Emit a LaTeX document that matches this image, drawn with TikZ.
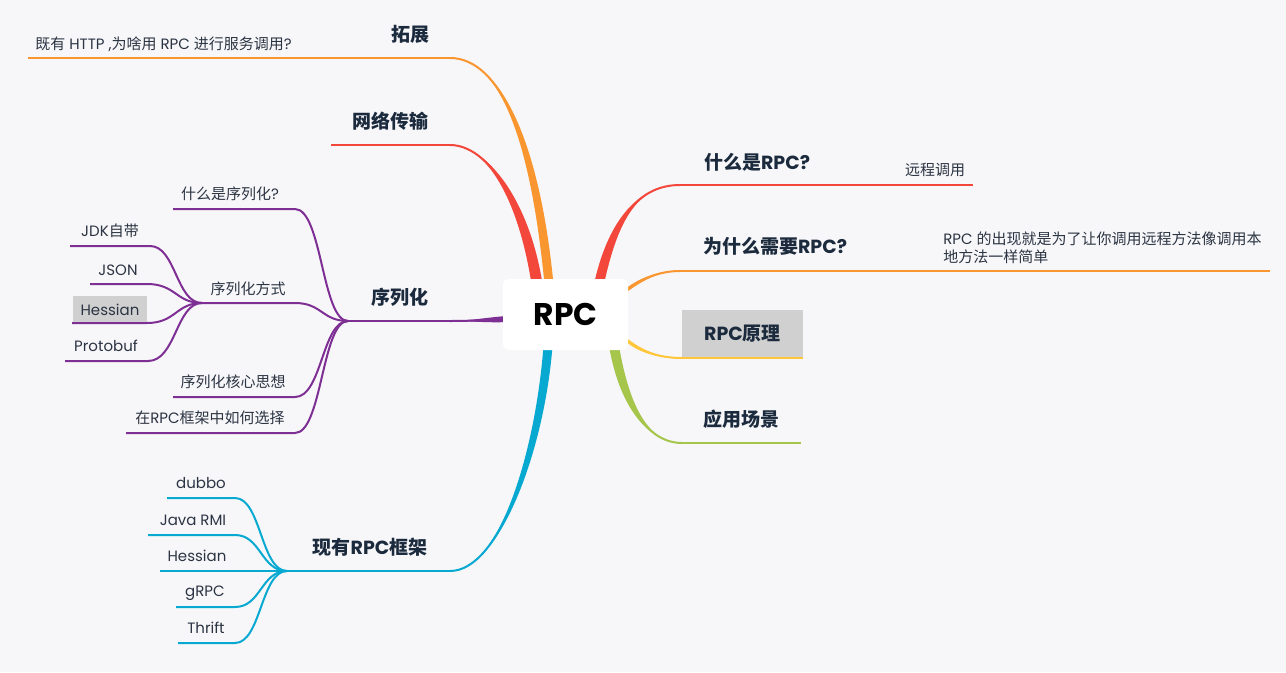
\documentclass[tikz,border=0pt]{standalone}
\usepackage{fontspec}
\setmainfont{Poppins}
\newfontfamily\cjk{Noto Sans CJK SC}
\usetikzlibrary{calc}
\newcommand\C[1]{{\cjk #1}}
\definecolor{bgc}{HTML}{F7F7FA}
\definecolor{orangec}{HTML}{F9962F}
\definecolor{redc}{HTML}{F2473A}
\definecolor{purplec}{HTML}{7E2F94}
\definecolor{cyanc}{HTML}{07A9D1}
\definecolor{yellowc}{HTML}{FFC63A}
\definecolor{greenc}{HTML}{A5C54B}
\definecolor{topicc}{HTML}{1B2A3C}
\definecolor{leafc}{HTML}{2B3442}
\definecolor{boxc}{HTML}{D0D0D0}
\tikzset{
  topic/.style={font=\fontsize{14.25}{17}\selectfont\bfseries, text=topicc, inner sep=0pt},
  leaf/.style={font=\fontsize{11.25}{13.5}\selectfont, text=leafc, inner sep=0pt},
  twig/.style={line width=1.5pt},
}
% colour, start, control1, control2, end, half-width offset
\newcommand\branch[6]{%
  \fill[#1] ($(#2)+(#6)$) .. controls ($(#3)+(#6)$) and (#4) .. (#5)
     .. controls (#4) and ($(#3)-(#6)$) .. ($(#2)-(#6)$) -- cycle;
  \draw[#1,line width=1.5pt] (#2) .. controls (#3) and (#4) .. (#5);
}
\begin{document}
\begin{tikzpicture}[x=0.75pt,y=-0.75pt]
\fill[bgc] (0,0) rectangle (1286,672);
\useasboundingbox (0,0) rectangle (1286,672);

% ---------- coordinates ----------
\coordinate (o1s) at (549,284); \coordinate (o1e) at (450,58); \coordinate (o1l) at (28,58);
\coordinate (r1s) at (537,284); \coordinate (r1e) at (450,145); \coordinate (r1l) at (331,145);
\coordinate (p0s) at (507,319); \coordinate (p0e) at (450,321); \coordinate (pc) at (348,321);
\coordinate (c0s) at (548,346); \coordinate (c0e) at (450,571); \coordinate (cc) at (287,571);
\coordinate (r2s) at (599,284); \coordinate (r2e) at (680,185); \coordinate (r2l) at (973,185);
\coordinate (o2s) at (624,292); \coordinate (o2e) at (680,271); \coordinate (o2l) at (1270,271);
\coordinate (y1s) at (624,338); \coordinate (y1e) at (682,358); \coordinate (y1l) at (803,358);
\coordinate (g1s) at (614,346); \coordinate (g1e) at (682,443); \coordinate (g1l) at (801,443);

% ---------- main branches ----------
\branch{orangec}{o1s}{535,140}{500,58}{o1e}{4.5,0}
\branch{redc}{r1s}{524,200}{487,145}{r1e}{5.5,0}
\branch{purplec}{p0s}{490,320}{468,321}{p0e}{0,3}
\branch{cyanc}{c0s}{540,450}{500,571}{c0e}{4.5,0}
\branch{redc}{r2s}{612,225}{635,185}{r2e}{5,0}
\branch{orangec}{o2s}{642,278}{660,271}{o2e}{0,2.2}
\branch{yellowc}{y1s}{640,352}{660,358}{y1e}{0,2.2}
\branch{greenc}{g1s}{625,410}{650,443}{g1e}{5,0}

\draw[orangec,twig] (o1l) -- (o1e);
\draw[redc,twig] (r1l) -- (r1e);
\draw[purplec,twig] (pc) -- (p0e);
\draw[cyanc,twig] (cc) -- (c0e);
\draw[redc,twig] (r2e) -- (r2l);
\draw[orangec,twig] (o2e) -- (o2l);
\draw[greenc,twig] (g1e) -- (g1l);

% ---------- serialization children ----------
\coordinate (s1a) at (173,209); \coordinate (s1b) at (295,209);
\coordinate (s2a) at (202,303); \coordinate (s2b) at (295,303);
\coordinate (s3a) at (173,397); \coordinate (s3b) at (295,397);
\coordinate (s4a) at (126,433); \coordinate (s4b) at (295,433);
\foreach \a/\b/\y in {s1a/s1b/209,s2a/s2b/303,s3a/s3b/397,s4a/s4b/433}{
  \draw[purplec,twig] (\a) -- (\b) .. controls (322,\y) and (322,321) .. (pc);
}
\coordinate (sc) at (s2a);
\coordinate (j1a) at (70,246); \coordinate (j1b) at (150,246);
\coordinate (j2a) at (90,284); \coordinate (j2b) at (147,284);
\coordinate (j3a) at (72,323); \coordinate (j3b) at (147,323);
\coordinate (j4a) at (65,361); \coordinate (j4b) at (148,361);
\node[fill=boxc, minimum width=55.5pt, minimum height=20.25pt, inner sep=0pt] (hbox) at (110,309.5) {};
\foreach \a/\b/\y in {j1a/j1b/246,j2a/j2b/284,j3a/j3b/323,j4a/j4b/361}{
  \draw[purplec,twig] (\a) -- (\b) .. controls (176,\y) and (176,303) .. (sc);
}
\draw[purplec,line width=2.2pt] (j2a) -- ($(j2a)+(25,0)$);

% ---------- framework children ----------
\coordinate (f1a) at (167,498); \coordinate (f1b) at (235,498);
\coordinate (f2a) at (148,535); \coordinate (f2b) at (235,535);
\coordinate (f3a) at (160,571); \coordinate (f3b) at (235,571);
\coordinate (f4a) at (176,607); \coordinate (f4b) at (235,607);
\coordinate (f5a) at (178,643); \coordinate (f5b) at (235,643);
\foreach \a/\b/\y in {f1a/f1b/498,f2a/f2b/535,f3a/f3b/571,f4a/f4b/607,f5a/f5b/643}{
  \draw[cyanc,twig] (\a) -- (\b) .. controls (261,\y) and (261,571) .. (cc);
}

% ---------- boxes ----------
\node[fill=white, rounded corners=4pt, minimum width=93.75pt, minimum height=53.25pt, inner sep=0pt,
      font=\fontsize{23.5}{26}\selectfont\bfseries, text=black] (rpc) at (565.5,314.5) {RPC};
\node[fill=boxc, minimum width=90.75pt, minimum height=36pt, inner sep=0pt] (ylbox) at (742.5,334) {};
\draw[yellowc,twig] (y1e) -- (y1l);

% ---------- labels ----------
\node[topic] (tz) at (410,34) {\C{拓展}};
\node[leaf, anchor=west] (tz1) at (35,44) {\C{既有} HTTP ,\C{为啥用} RPC \C{进行服务调用}?};
\node[topic] (wl) at (390,121) {\C{网络传输}};
\node[topic] (xl) at (400,297) {\C{序列化}};
\node[leaf] (xl1) at (230,194) {\C{什么是序列化}?};
\node[leaf] (xl2) at (248,289) {\C{序列化方式}};
\node[leaf] (xl3) at (233,382) {\C{序列化核心思想}};
\node[leaf] (xl4) at (210,418) {\C{在}RPC\C{框架中如何选择}};
\node[leaf] (jdk) at (110,231) {JDK\C{自带}};
\node[leaf] (json) at (118,270) {JSON};
\node[leaf] (hes) at (hbox) {Hessian};
\node[leaf] (pro) at (106,346) {Protobuf};
\node[topic] (kj) at (370,547) {\C{现有}RPC\C{框架}};
\node[leaf] (dub) at (201,483) {dubbo};
\node[leaf] (jrmi) at (193,520) {Java RMI};
\node[leaf] (hes2) at (197,556) {Hessian};
\node[leaf] (grpc) at (205,593) {gRPC};
\node[leaf] (thr) at (206,628) {Thrift};
\node[topic] (wh) at (757,162) {\C{什么是}RPC?};
\node[leaf] (wh1) at (935,170) {\C{远程调用}};
\node[topic] (wy) at (775,246) {\C{为什么需要}RPC?};
\node[leaf, anchor=west, align=left] (wy1) at (943,248) {RPC \C{的出现就是为了让你调用远程方法像调用本}\\\C{地方法一样简单}};
\node[topic] (yl) at (ylbox) {RPC\C{原理}};
\node[topic] (yy) at (741,419) {\C{应用场景}};
\end{tikzpicture}
\end{document}
